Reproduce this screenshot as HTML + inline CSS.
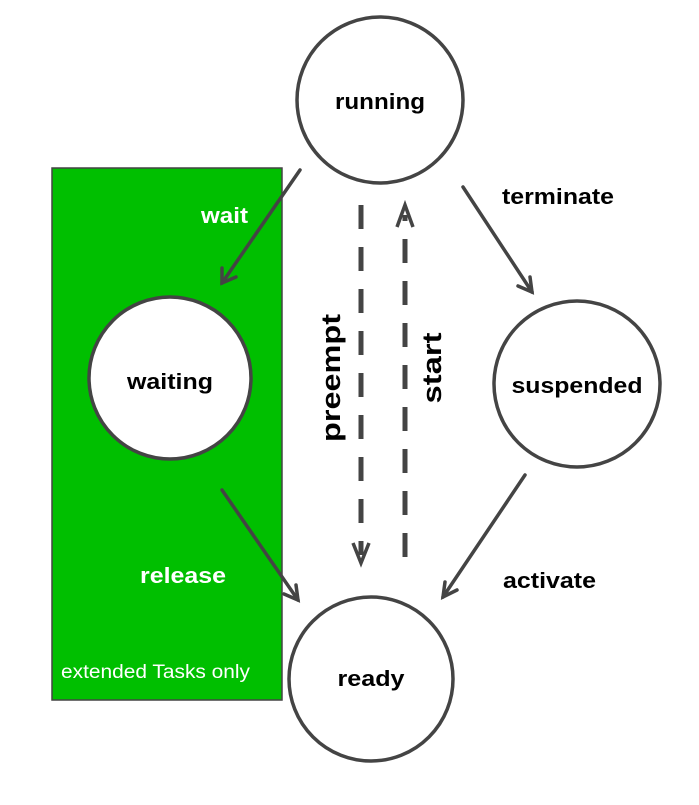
<!DOCTYPE html>
<html><head><style>body{margin:0;background:#fff}svg{display:block}text{font-family:"Liberation Sans",sans-serif;font-weight:bold;font-size:22px}</style></head>
<body>
<svg width="699" height="805" viewBox="0 0 699 805">
<rect x="52" y="168" width="230" height="532" fill="#00bf00" stroke="#444" stroke-width="1.5"/>
<g fill="#fff" stroke="#444" stroke-width="3.5">
<circle cx="380" cy="100" r="83"/>
<circle cx="170" cy="378" r="81"/>
<circle cx="577" cy="384" r="83"/>
<circle cx="371" cy="679" r="82"/>
</g>
<g stroke="#444" stroke-width="3.5" fill="none" stroke-linecap="round">
<line x1="300" y1="170" x2="222" y2="283"/><polyline points="222,268 222,283 236,277"/>
<line x1="463" y1="187" x2="532" y2="292"/><polyline points="518,286 532,292 530,277"/>
<line x1="222" y1="490" x2="298" y2="600"/><polyline points="284,594 298,600 296,585"/>
<line x1="525" y1="475" x2="443" y2="597"/><polyline points="445,582 443,597 457,590"/>
</g>
<g stroke="#444" stroke-width="5" fill="none">
<line x1="361" y1="205" x2="361" y2="555" stroke-dasharray="24,18"/>
<line x1="405" y1="557" x2="405" y2="215" stroke-dasharray="24,18"/>
</g>
<g stroke="#444" stroke-width="3.5" fill="none">
<polyline points="353,543 361,563 369,543"/>
<polyline points="397,227 405,205 413,227"/>
</g>
<g lengthAdjust="spacingAndGlyphs">
<text x="380" y="109" text-anchor="middle" textLength="90" lengthAdjust="spacingAndGlyphs">running</text>
<text x="170" y="389" text-anchor="middle" textLength="86" lengthAdjust="spacingAndGlyphs">waiting</text>
<text x="577" y="393" text-anchor="middle" textLength="131" lengthAdjust="spacingAndGlyphs">suspended</text>
<text x="371" y="686" text-anchor="middle" textLength="67" lengthAdjust="spacingAndGlyphs">ready</text>
<text x="502" y="204" textLength="112" lengthAdjust="spacingAndGlyphs">terminate</text>
<text x="503" y="588" textLength="93" lengthAdjust="spacingAndGlyphs">activate</text>
<text x="201" y="223" fill="#fff" textLength="47" lengthAdjust="spacingAndGlyphs">wait</text>
<text x="140" y="583" fill="#fff" textLength="86" lengthAdjust="spacingAndGlyphs">release</text>
<text x="61" y="678" fill="#fff" style="font-weight:normal;font-size:19px" textLength="189" lengthAdjust="spacingAndGlyphs">extended Tasks only</text>
<text transform="translate(340,378) rotate(-90)" text-anchor="middle" style="font-size:27px" textLength="128" lengthAdjust="spacingAndGlyphs">preempt</text>
<text transform="translate(441,368) rotate(-90)" text-anchor="middle" style="font-size:27px" textLength="71" lengthAdjust="spacingAndGlyphs">start</text>
</g>
</svg>
</body></html>
